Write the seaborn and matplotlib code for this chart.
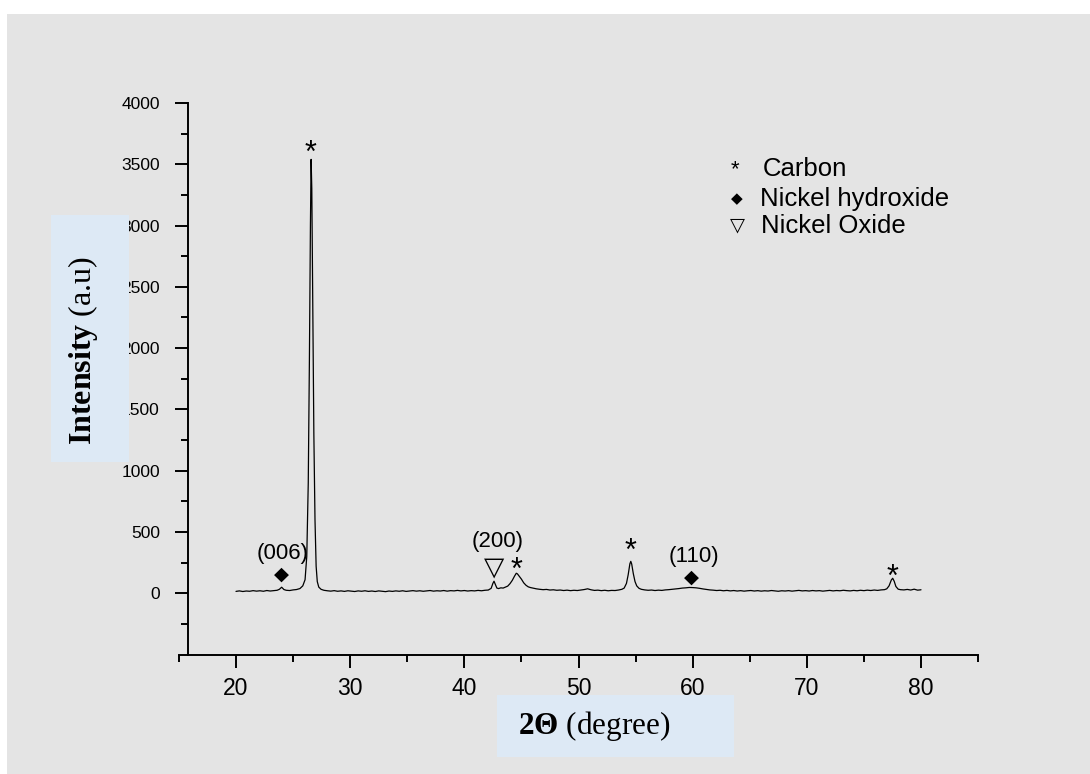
import matplotlib
matplotlib.use("Agg")
import matplotlib.pyplot as plt
import seaborn as sns
import pandas as pd
from matplotlib.patches import Rectangle

# ---------------- data ----------------
two_theta_a = [20.0, 20.3, 20.6, 20.9, 21.2, 21.5, 21.8, 22.1, 22.4, 22.7, 23.0, 23.3, 23.6,
               23.8, 24.0, 24.2, 24.4, 24.7, 25.0, 25.3, 25.6, 25.85, 26.05, 26.2, 26.33,
               26.43, 26.52, 26.58, 26.64, 26.72, 26.82, 26.92, 27.02, 27.12, 27.25, 27.45,
               27.7, 28.0]
intensity_a = [15, 19, 14, 18, 16, 21, 17, 20, 16, 22, 18, 21, 24,
               32, 49, 30, 24, 22, 27, 30, 38, 60, 110, 300, 900,
               1900, 3000, 3540, 3300, 2400, 1300, 600, 220, 95, 50, 32,
               24, 20]

two_theta_b = [28.3, 28.6, 28.9, 29.2, 29.5, 29.8, 30.1, 30.4, 30.7, 31.0, 31.3, 31.6, 31.9,
               32.2, 32.5, 32.8, 33.1, 33.4, 33.7, 34.0, 34.3, 34.6, 34.9, 35.2, 35.5, 35.8,
               36.1, 36.4, 36.7, 37.0, 37.3, 37.6, 37.9, 38.2, 38.5, 38.8, 39.1, 39.4, 39.7,
               40.0, 40.3, 40.6, 40.9, 41.2, 41.5, 41.8, 42.1, 42.35, 42.5, 42.6, 42.72,
               42.85, 43.0, 43.2, 43.4, 43.6, 43.8, 44.0, 44.2, 44.4, 44.55, 44.65, 44.8,
               45.0, 45.2, 45.4, 45.6, 45.8, 46.0, 46.3, 46.6, 46.9, 47.2, 47.5, 47.8, 48.1,
               48.4, 48.7, 49.0, 49.3, 49.6, 49.9, 50.2, 50.5, 50.8, 51.1, 51.4, 51.7, 52.0,
               52.3, 52.6, 52.9, 53.2, 53.5, 53.8, 54.0, 54.2, 54.35, 54.5, 54.58, 54.66,
               54.8, 54.95, 55.1, 55.3, 55.5, 55.8]
intensity_b = [17, 21, 16, 19, 15, 20, 17, 14, 19, 16, 20, 15, 18,
               14, 19, 16, 13, 18, 15, 19, 16, 20, 15, 18, 21, 17,
               20, 16, 19, 22, 17, 20, 18, 22, 17, 21, 19, 23, 19,
               22, 18, 21, 19, 23, 20, 24, 26, 40, 80, 98, 70,
               42, 38, 44, 42, 50, 58, 78, 105, 140, 163, 158, 140,
               115, 85, 65, 52, 46, 42, 36, 32, 29, 31, 26, 28, 24,
               26, 22, 25, 21, 24, 22, 26, 30, 36, 28, 23, 25, 21,
               24, 20, 23, 22, 26, 32, 42, 80, 150, 240, 260, 238,
               160, 95, 60, 40, 32, 27]

two_theta_c = [56.1, 56.4, 56.7, 57.0, 57.3, 57.6, 57.9, 58.2, 58.5, 58.8, 59.1, 59.4, 59.7,
               60.0, 60.3, 60.6, 60.9, 61.2, 61.5, 61.8, 62.1, 62.4, 62.7, 63.0, 63.3, 63.6,
               63.9, 64.2, 64.5, 64.8, 65.1, 65.4, 65.7, 66.0, 66.3, 66.6, 66.9, 67.2, 67.5,
               67.8, 68.1, 68.4, 68.7, 69.0, 69.3, 69.6, 69.9, 70.2, 70.5, 70.8, 71.1, 71.4,
               71.7, 72.0, 72.3, 72.6, 72.9, 73.2, 73.5, 73.8, 74.1, 74.4, 74.7, 75.0, 75.3,
               75.6, 75.9, 76.2, 76.5, 76.8, 77.0, 77.2, 77.4, 77.52, 77.65, 77.8, 78.0, 78.2,
               78.5, 78.8, 79.1, 79.4, 79.7, 80.0]
intensity_c = [24, 26, 22, 25, 23, 27, 29, 32, 35, 38, 42, 44, 47,
               46, 44, 40, 35, 31, 27, 25, 22, 24, 20, 23, 19, 22,
               18, 21, 17, 20, 22, 18, 21, 17, 20, 18, 22, 19, 16,
               20, 18, 21, 17, 20, 23, 19, 21, 18, 22, 19, 21, 17,
               20, 23, 19, 22, 20, 24, 21, 19, 23, 20, 24, 21, 25,
               22, 26, 23, 27, 29, 36, 60, 108, 122, 98, 55, 33, 29,
               27, 31, 26, 33, 25, 28]

x_ticks = [20, 30, 40, 50, 60, 70, 80]
y_ticks = [0, 500, 1000, 1500, 2000, 2500, 3000, 3500, 4000]

legend_symbols = ["*", "◆", "▽"]
legend_labels = ["Carbon", "Nickel hydroxide", "Nickel Oxide"]

# peak annotations: (text, 2theta, intensity level)
hkl_labels = [("(006)", 24.09, 326), ("(200)", 42.92, 420), ("(110)", 60.14, 299)]
diamond_marks = [(24.0, 157), (59.9, 130)]
triangle_marks = [(42.6, 212)]
star_marks = [(26.55, 3520), (44.58, 118), (54.57, 268), (77.54, 62)]

df = pd.DataFrame({
    "two_theta": two_theta_a + two_theta_b + two_theta_c,
    "intensity": intensity_a + intensity_b + intensity_c,
})

# ---------------- figure ----------------
sns.set_theme(style="ticks")
plt.rcParams['font.family'] = ['Liberation Sans', 'DejaVu Sans']
plt.rcParams['mathtext.fontset'] = 'custom'
plt.rcParams['mathtext.rm'] = 'Liberation Serif'
plt.rcParams['mathtext.bf'] = 'Liberation Serif:bold'

W, H = 1090, 774
BG = '#e4e4e4'
BOX = '#dde9f5'
fig = plt.figure(figsize=(W / 100, H / 100), dpi=100, facecolor='white')
fig.add_artist(Rectangle((7 / W, 0), 1 - 7 / W, 1 - 14 / H, transform=fig.transFigure,
                         facecolor=BG, edgecolor='none', zorder=-10))

ax = fig.add_axes([178.9 / W, 1 - 654.5 / H, (978.1 - 178.9) / W, (654.5 - 103) / H])
ax.set_facecolor('none')

sns.lineplot(data=df, x="two_theta", y="intensity", ax=ax, color='black',
             linewidth=0.9, estimator=None, sort=False)

ax.set_xlim(15, 85)
ax.set_ylim(-500, 4000)
ax.set_xticks(x_ticks)
ax.set_xticks([15, 25, 35, 45, 55, 65, 75, 85], minor=True)
ax.set_yticks(y_ticks)
ax.set_yticks([-250 + 500 * i for i in range(9)], minor=True)
ax.set_xlabel("")
ax.set_ylabel("")

for s in ['top', 'right']:
    ax.spines[s].set_visible(False)
for s in ['left', 'bottom']:
    ax.spines[s].set_linewidth(1.4)
    ax.spines[s].set_color('black')
ax.spines['left'].set_position(('data', 15.76))

ax.tick_params(axis='both', which='major', direction='out', length=9.5, width=1.4, color='black')
ax.tick_params(axis='both', which='minor', direction='out', length=5, width=1.4, color='black')
ax.tick_params(axis='y', which='major', labelsize=12.5, pad=10.5)
ax.tick_params(axis='x', which='major', labelsize=16.5, pad=6.5)
for lab in ax.get_xticklabels() + ax.get_yticklabels():
    lab.set_color('black')

# annotations
for txt, xx, yy in hkl_labels:
    ax.text(xx, yy, txt, ha='center', va='center', fontsize=16, color='black')
for xx, yy in diamond_marks:
    ax.text(xx, yy, "◆", ha='center', va='center', fontsize=14, color='black',
            family=['DejaVu Sans'])
for xx, yy in triangle_marks:
    ax.text(xx, yy, "▽", ha='center', va='center', fontsize=19, color='black',
            family=['DejaVu Sans'])
for xx, yy in star_marks:
    ax.text(xx, yy, "*", ha='center', va='baseline', fontsize=22, color='black')

# legend (text based)
leg_sym_pos = [(735, 170), (737, 199), (737, 225)]
leg_sym_size = [16, 11, 14]
leg_txt_pos = [(763, 169), (760, 199), (761, 226)]
for sym, (px, py), fs in zip(legend_symbols, leg_sym_pos, leg_sym_size):
    fig.text(px / W, 1 - py / H, sym, ha='center', va='center', fontsize=fs,
             family=['DejaVu Sans'] if sym != "*" else ['Liberation Sans'], color='black')
for lab, (px, py) in zip(legend_labels, leg_txt_pos):
    fig.text(px / W, 1 - py / H, lab, ha='left', va='center', fontsize=18.5, color='black')

# axis label boxes
fig.add_artist(Rectangle((51 / W, 1 - 462 / H), (129 - 51) / W, (462 - 215) / H,
                         transform=fig.transFigure, facecolor=BOX, edgecolor='none', zorder=5))
fig.add_artist(Rectangle((497 / W, 1 - 757 / H), (734 - 497) / W, (757 - 695) / H,
                         transform=fig.transFigure, facecolor=BOX, edgecolor='none', zorder=5))
fig.text(83 / W, 1 - 350 / H, r"$\mathbf{Intensity}$ (a.u)", rotation=90, ha='center',
         va='center', fontsize=23, family=['Liberation Serif'], color='black', zorder=6)
fig.text(594 / W, 1 - 726 / H, r"$\mathbf{2Θ}$ (degree)", ha='center', va='center',
         fontsize=22.5, family=['Liberation Serif'], color='black', zorder=6)

fig.savefig("out.png", dpi=100, facecolor=fig.get_facecolor())
